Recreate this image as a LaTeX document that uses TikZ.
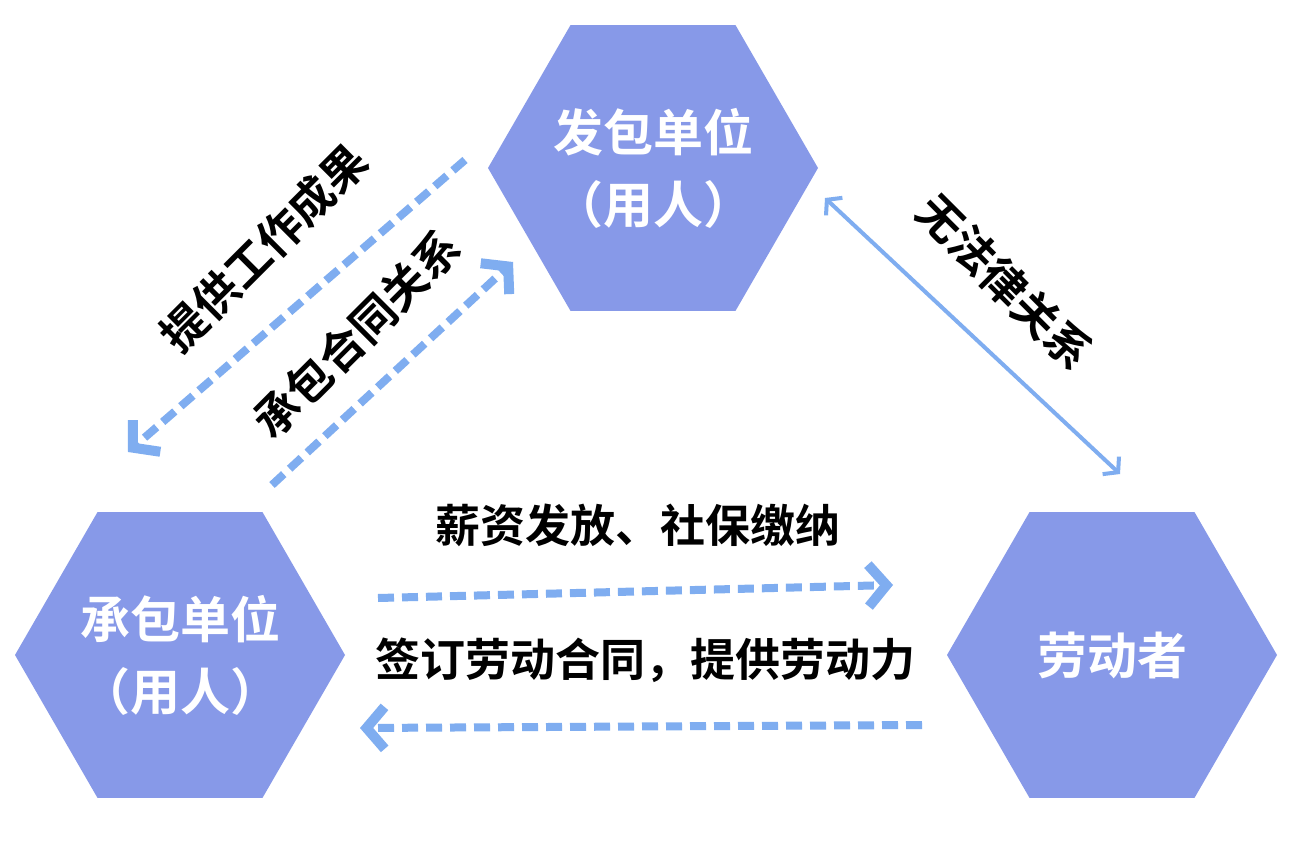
\documentclass[tikz,border=0pt]{standalone}
\usepackage{fontspec}
\newfontfamily\cjk{Noto Sans CJK SC}[BoldFont=* Bold]
\usetikzlibrary{shapes.geometric,arrows.meta}
\definecolor{hexc}{HTML}{8799E8}
\definecolor{arrc}{HTML}{7FADF0}
\begin{document}
\begin{tikzpicture}[x=1pt,y=-1pt,
  hexbox/.style={regular polygon,regular polygon sides=6,minimum size=330pt,fill=hexc,inner sep=0pt,shape border rotate=0},
  hextxt/.style={text=white,font=\cjk\bfseries\fontsize{50}{72}\selectfont,align=center,inner sep=0pt},
  band/.style={arrc,line width=8pt,dash pattern=on 16pt off 8pt,-{Straight Barb[length=18pt,width=42pt,line width=10pt]}},
  lbl/.style={font=\cjk\bfseries\fontsize{45}{50}\selectfont,text=black}]
\useasboundingbox (0,0) rectangle (1290,866);
\fill[white] (0,0) rectangle (1290,866);
\node[hexbox] (top) at (653,168) {};
\node[hexbox] (left) at (180,655) {};
\node[hexbox] (right) at (1112,655) {};
\node[hextxt] (topt) at (top.center) {发包单位\\（用人）};
\node[hextxt] (leftt) at (left.center) {承包单位\\（用人）};
\node[hextxt] (rightt) at (right.center) {劳动者};
\coordinate (a1) at (465,160); \coordinate (a2) at (128,452);
\coordinate (b1) at (272,485); \coordinate (b2) at (513,262);
\coordinate (c1) at (825,198); \coordinate (c2) at (1120,474);
\coordinate (d1) at (378,598); \coordinate (d2) at (893,585);
\coordinate (e1) at (922,725); \coordinate (e2) at (360,728);
\draw[band] (a1) -- (a2);
\draw[band] (b1) -- (b2);
\draw[band] (d1) -- (d2);
\draw[band] (e1) -- (e2);
\draw[arrc,line width=4pt,{Straight Barb[length=10pt,width=24pt,line width=4pt]}-{Straight Barb[length=10pt,width=24pt,line width=4pt]}] (c1) -- (c2);
\node[lbl,rotate=45] (t1) at (264,248) {提供工作成果};
\node[lbl,rotate=45] (t2) at (357,334) {承包合同关系};
\node[lbl,rotate=-45] (t3) at (1005,282) {无法律关系};
\node[lbl] (t4) at (638,525) {薪资发放、社保缴纳};
\node[lbl] (t5) at (645,660) {签订劳动合同，提供劳动力};
\end{tikzpicture}
\end{document}
